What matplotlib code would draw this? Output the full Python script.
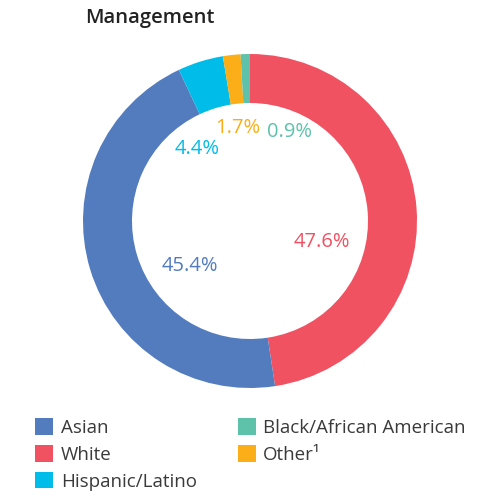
import matplotlib
matplotlib.use('Agg')
from matplotlib import pyplot as plt
from matplotlib.patches import Patch

# Dados do gráfico
categories = ['White', 'Asian', 'Hispanic/Latino', 'Other¹', 'Black/African American']
values = [47.6, 45.4, 4.4, 1.7, 0.9]
colors = ['#f05262', '#537cbf', '#00bce8', '#fbae17', '#5ec2aa']
legend_order = ['Asian', 'White', 'Hispanic/Latino', 'Black/African American', 'Other¹']

# Posição dos rótulos dentro do anel (pixels a partir do topo)
label_pos = [(322, 242), (190, 266), (197, 149), (238, 128), (290, 132)]

plt.rcParams['font.family'] = ['Open Sans', 'DejaVu Sans']

H = 500
fig = plt.figure(figsize=(5, 5), dpi=100)
ax = fig.add_axes([0, 0, 1, 1])

wedges, _ = ax.pie(values, colors=colors, startangle=90, counterclock=False,
                   radius=167, center=(250, H - 221),
                   wedgeprops=dict(width=49, edgecolor='none'))
ax.set_xlim(0, 500)
ax.set_ylim(0, H)
ax.set_aspect('equal')
ax.axis('off')

for v, c, (x, y) in zip(values, colors, label_pos):
    ax.text(x, H - y, f'{v}%', color=c, fontsize=14.5, fontweight='medium',
            ha='center', va='center')

ax.text(85, H - 18, 'Management', fontsize=14.5, fontweight='semibold',
        color='#222222', ha='left', va='center')

color_map = dict(zip(categories, colors))
handles = [Patch(facecolor=color_map[n], edgecolor='none') for n in legend_order]
fig.legend(handles, legend_order, ncol=2, loc='upper left',
           bbox_to_anchor=(0.037, 0.197), frameon=False, fontsize=13.5,
           handlelength=0.95, handleheight=0.95, handletextpad=0.4,
           labelspacing=0.45, columnspacing=2.2, labelcolor='#3a3a3a')

fig.savefig('out.png', dpi=100)
